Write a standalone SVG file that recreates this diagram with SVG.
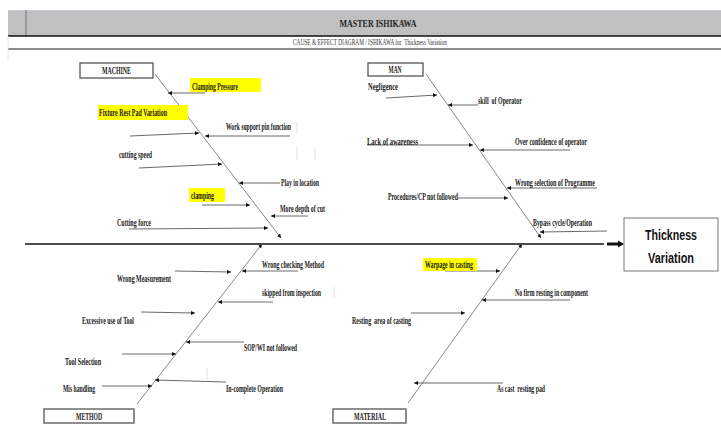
<svg xmlns="http://www.w3.org/2000/svg" width="721" height="443" viewBox="0 0 721 443">
<style>
.lb{font-family:"Liberation Serif","Times New Roman",serif;font-size:9.5px;font-weight:bold;fill:#1a1a1a;}
.bx{fill:#fff;stroke:#555;stroke-width:1.3;}
.bt{font-family:"Liberation Serif","Times New Roman",serif;font-size:9.5px;font-weight:bold;fill:#1a1a1a;text-anchor:middle;}
.hl{fill:#ffff00;}
.sb{stroke:#444;stroke-width:0.8;fill:none;marker-end:url(#a);}
.dg{stroke:#888;stroke-width:1;fill:none;marker-end:url(#a);}
.gl{stroke:#e2e2e2;stroke-width:1;}
</style>
<defs>
<marker id="a" viewBox="0 0 6 6" refX="6" refY="3" markerWidth="4" markerHeight="4" markerUnits="userSpaceOnUse" orient="auto"><path d="M0,0L6,3L0,6z" fill="#111"/></marker>
</defs>
<rect width="721" height="443" fill="#fff"/>
<g id="header">
<rect x="8" y="10" width="713" height="26" fill="#c0c0c0"/>
<line x1="8" y1="10.5" x2="721" y2="10.5" stroke="#c9c6d6" stroke-width="1"/>
<line x1="26" y1="10" x2="26" y2="36" stroke="#808080" stroke-width="1.2"/>
<line x1="8" y1="36" x2="721" y2="36" stroke="#111" stroke-width="1.4"/>
<line x1="8" y1="49" x2="721" y2="49" stroke="#8c8c8c" stroke-width="2"/>
<line x1="8" y1="36" x2="8" y2="62" stroke="#e4e4e4" stroke-width="1"/>
<text x="378" y="27" font-family="Liberation Serif,serif" font-size="11" font-weight="bold" fill="#222" text-anchor="middle" textLength="77" lengthAdjust="spacingAndGlyphs">MASTER ISHIKAWA</text>
<text x="370" y="45" font-family="Liberation Serif,serif" font-size="7.5" fill="#333" text-anchor="middle" textLength="154" lengthAdjust="spacingAndGlyphs" xml:space="preserve">CAUSE &amp; EFFECT DIAGRAM / ISHIKAWA for  Thickness Variation</text>
</g>
<g id="connectors">
<line x1="25" y1="244" x2="604" y2="244" stroke="#111" stroke-width="1.5"/>
<line x1="607" y1="244" x2="619" y2="244" stroke="#111" stroke-width="3"/>
<path d="M618,240.5L624,244L618,247.5z" fill="#111"/>
<line class="dg" x1="155" y1="74" x2="281" y2="238"/>
<line class="dg" x1="426" y1="74" x2="541" y2="238"/>
<line class="dg" x1="137" y1="404" x2="262" y2="244"/>
<line class="dg" x1="408" y1="403" x2="522" y2="244"/>
<line class="sb" x1="205" y1="93" x2="168" y2="93"/>
<line class="sb" x1="132" y1="118" x2="186" y2="118"/>
<line class="sb" x1="290" y1="136" x2="205" y2="136"/>
<line class="sb" x1="130" y1="136" x2="199" y2="133"/>
<line class="sb" x1="139" y1="168" x2="222" y2="164"/>
<line class="sb" x1="280" y1="183" x2="239" y2="183"/>
<line class="sb" x1="202" y1="205" x2="250" y2="205"/>
<line class="sb" x1="308" y1="216" x2="271" y2="216"/>
<line class="sb" x1="129" y1="229" x2="268" y2="228"/>
<line class="sb" x1="386" y1="98" x2="437" y2="95"/>
<line class="sb" x1="478" y1="105" x2="448" y2="105"/>
<line class="sb" x1="367" y1="145" x2="473" y2="145"/>
<line class="sb" x1="570" y1="150" x2="480" y2="150"/>
<line class="sb" x1="597" y1="188" x2="507" y2="188"/>
<line class="sb" x1="458" y1="198" x2="508" y2="198"/>
<line class="sb" x1="607" y1="231" x2="540" y2="232"/>
<line class="sb" x1="298" y1="271" x2="242" y2="271"/>
<line class="sb" x1="175" y1="271" x2="231" y2="272"/>
<line class="sb" x1="273" y1="302" x2="218" y2="302"/>
<line class="sb" x1="141" y1="312" x2="195" y2="313"/>
<line class="sb" x1="244" y1="342" x2="186" y2="342"/>
<line class="sb" x1="122" y1="354" x2="176" y2="354"/>
<line class="sb" x1="226" y1="382" x2="155" y2="380"/>
<line class="sb" x1="102" y1="386" x2="152" y2="386"/>
<line class="sb" x1="445" y1="271" x2="500" y2="271"/>
<line class="sb" x1="570" y1="300" x2="482" y2="300"/>
<line class="sb" x1="411" y1="313" x2="465" y2="313"/>
<line class="sb" x1="503" y1="383" x2="414" y2="383"/>
<line class="gl" x1="297" y1="122" x2="297" y2="133"/>
<line class="gl" x1="297" y1="147" x2="297" y2="160"/>
<line class="gl" x1="315" y1="147" x2="315" y2="160"/>
<line class="gl" x1="334" y1="287" x2="334" y2="298"/>
<line class="gl" x1="207" y1="368" x2="207" y2="380"/>
</g>
<g id="effect">
<rect x="624" y="218" width="94" height="53" fill="#fff" stroke="#777" stroke-width="1"/>
<text x="671" y="240" font-family="Liberation Sans,Arial,sans-serif" font-size="15" font-weight="bold" fill="#111" text-anchor="middle" textLength="52" lengthAdjust="spacingAndGlyphs">Thickness</text>
<text x="671" y="263" font-family="Liberation Sans,Arial,sans-serif" font-size="15" font-weight="bold" fill="#111" text-anchor="middle" textLength="46" lengthAdjust="spacingAndGlyphs">Variation</text>
</g>
<g id="machine"><rect class="bx" x="80" y="63" width="73" height="15"/><text class="bt" x="116.5" y="74" textLength="29" lengthAdjust="spacingAndGlyphs">MACHINE</text></g>
<g id="man"><rect class="bx" x="368" y="63" width="55" height="13"/><text class="bt" x="395" y="73" textLength="13" lengthAdjust="spacingAndGlyphs">MAN</text></g>
<g id="method"><rect class="bx" x="44" y="409" width="90" height="14"/><text class="bt" x="89" y="419.5" textLength="26" lengthAdjust="spacingAndGlyphs">METHOD</text></g>
<g id="material"><rect class="bx" x="333" y="409" width="73" height="14"/><text class="bt" x="370" y="419.5" textLength="32" lengthAdjust="spacingAndGlyphs">MATERIAL</text></g>
<g id="c-clamping-pressure"><rect class="hl" x="190" y="78" width="71" height="14"/><text class="lb" x="192" y="90" textLength="46" lengthAdjust="spacingAndGlyphs">Clamping Pressure</text></g>
<g id="c-fixture"><rect class="hl" x="98" y="105" width="90" height="15"/><text class="lb" x="99" y="116" textLength="68" lengthAdjust="spacingAndGlyphs">Fixture Rest Pad Variation</text></g>
<g id="c-work-support"><text class="lb" x="226" y="130" textLength="65" lengthAdjust="spacingAndGlyphs">Work support pin function</text></g>
<g id="c-cutting-speed"><text class="lb" x="119" y="158" textLength="33" lengthAdjust="spacingAndGlyphs">cutting speed</text></g>
<g id="c-play"><text class="lb" x="281" y="186" textLength="38" lengthAdjust="spacingAndGlyphs">Play in location</text></g>
<g id="c-clamping"><rect class="hl" x="189" y="188" width="36" height="14"/><text class="lb" x="191" y="199" textLength="23" lengthAdjust="spacingAndGlyphs">clamping</text></g>
<g id="c-depth"><text class="lb" x="280" y="212" textLength="45" lengthAdjust="spacingAndGlyphs">More depth of cut</text></g>
<g id="c-cutting-force"><text class="lb" x="117" y="226" textLength="34" lengthAdjust="spacingAndGlyphs">Cutting force</text></g>
<g id="c-negligence"><text class="lb" x="368" y="90" textLength="30" lengthAdjust="spacingAndGlyphs">Negligence</text></g>
<g id="c-skill"><text class="lb" x="478" y="104" textLength="44" lengthAdjust="spacingAndGlyphs" xml:space="preserve">skill  of Operator</text></g>
<g id="c-lack"><text class="lb" x="367" y="145" textLength="51" lengthAdjust="spacingAndGlyphs">Lack of awareness</text></g>
<g id="c-over"><text class="lb" x="515" y="145" textLength="72" lengthAdjust="spacingAndGlyphs">Over confidence of operator</text></g>
<g id="c-wrong-selection"><text class="lb" x="515" y="186" textLength="80" lengthAdjust="spacingAndGlyphs">Wrong selection of Programme</text></g>
<g id="c-procedures"><text class="lb" x="388" y="200" textLength="70" lengthAdjust="spacingAndGlyphs">Procedures/CP not followed</text></g>
<g id="c-bypass"><text class="lb" x="533" y="226" textLength="59" lengthAdjust="spacingAndGlyphs">Bypass cycle/Operation</text></g>
<g id="c-wrong-checking"><text class="lb" x="262" y="268" textLength="62" lengthAdjust="spacingAndGlyphs">Wrong checking Method</text></g>
<g id="c-wrong-measurement"><text class="lb" x="117" y="282" textLength="54" lengthAdjust="spacingAndGlyphs">Wrong Measurement</text></g>
<g id="c-skipped"><text class="lb" x="262" y="296" textLength="59" lengthAdjust="spacingAndGlyphs">skipped from inspection</text></g>
<g id="c-excessive"><text class="lb" x="82" y="324" textLength="52" lengthAdjust="spacingAndGlyphs">Excessive use of Tool</text></g>
<g id="c-sop"><text class="lb" x="244" y="351" textLength="53" lengthAdjust="spacingAndGlyphs">SOP/WI not followed</text></g>
<g id="c-tool-selection"><text class="lb" x="65" y="365" textLength="36" lengthAdjust="spacingAndGlyphs">Tool Selection</text></g>
<g id="c-incomplete"><text class="lb" x="226" y="392" textLength="57" lengthAdjust="spacingAndGlyphs">In-complete Operation</text></g>
<g id="c-mis-handling"><text class="lb" x="63" y="392" textLength="32" lengthAdjust="spacingAndGlyphs">Mis handling</text></g>
<g id="c-warpage"><rect class="hl" x="423" y="258" width="54" height="13"/><text class="lb" x="425" y="268" textLength="48" lengthAdjust="spacingAndGlyphs">Warpage in casting</text></g>
<g id="c-no-firm"><text class="lb" x="515" y="296" textLength="73" lengthAdjust="spacingAndGlyphs">No firm resting in component</text></g>
<g id="c-resting-area"><text class="lb" x="352" y="324" textLength="59" lengthAdjust="spacingAndGlyphs" xml:space="preserve">Resting  area of casting</text></g>
<g id="c-as-cast"><text class="lb" x="497" y="392" textLength="48" lengthAdjust="spacingAndGlyphs" xml:space="preserve">As cast  resting pad</text></g>
</svg>
